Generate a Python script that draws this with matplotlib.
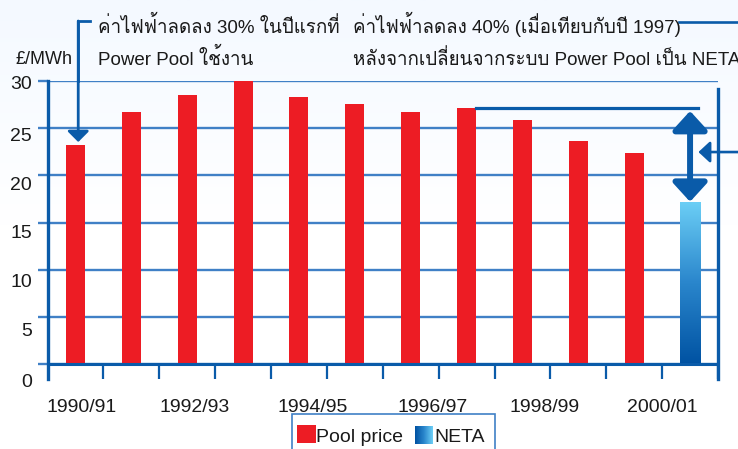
import numpy as np
import matplotlib
matplotlib.use('Agg')
import matplotlib.pyplot as plt
from matplotlib.colors import LinearSegmentedColormap
from matplotlib.patches import FancyArrowPatch, Rectangle

# data (pound per MWh)
years = ['1990/91', '1991/92', '1992/93', '1993/94', '1994/95', '1995/96',
         '1996/97', '1997/98', '1998/99', '1999/00', '2000/01']
pool_price = [23.2, 26.7, 28.5, 30.0, 28.3, 27.6, 26.7, 27.1, 25.9, 23.6, 22.4]
neta_price = [17.2]
tick_years = ['1990/91', '1992/93', '1994/95', '1996/97', '1998/99', '2000/01']
y_values = [0, 5, 10, 15, 20, 25, 30]

RED = '#ed1c24'
DARK = '#0a5ba9'
GRID = '#4080c6'
TXT = '#1a1a1a'
LATIN = 'Liberation Sans'
THAI = ['Liberation Sans', 'Loma', 'DejaVu Sans']

W, H = 738, 449
fig = plt.figure(figsize=(W / 100, H / 100), dpi=100)

def fx(px):
    return px / W

def fy(py):
    return 1 - py / H

# faint blue wash at the top of the picture
bg = fig.add_axes([0, 0, 1, 1], zorder=-10)
bg_cmap = LinearSegmentedColormap.from_list('bg', ['#ffffff', '#ffffff', '#f4f9ff'])
bg.imshow(np.linspace(0, 1, 256).reshape(-1, 1), cmap=bg_cmap, aspect='auto',
          extent=[0, 1, 0, 1], origin='lower')
bg.axis('off')

ax = fig.add_axes([fx(47.5), fy(382.9), fx(718) - fx(47.5), fy(81) - fy(382.9)])
ax.patch.set_alpha(0)

x_pool = np.arange(len(pool_price))
x_neta = np.arange(len(neta_price)) + len(pool_price)

ax.bar(x_pool, pool_price, width=0.34, color=RED, zorder=3)
neta_bar = ax.bar(x_neta, neta_price, width=0.36, color='none', zorder=3)[0]
neta_cmap = LinearSegmentedColormap.from_list('neta', ['#0052a2', '#2a86cc', '#6ccff6'])
img = ax.imshow(np.linspace(0, 1, 256).reshape(-1, 1), cmap=neta_cmap, origin='lower',
                aspect='auto', zorder=3,
                extent=[neta_bar.get_x(), neta_bar.get_x() + neta_bar.get_width(),
                        0, neta_bar.get_height()])
img.set_clip_path(neta_bar)

ax.set_xlim(-0.5, len(pool_price) + len(neta_price) - 0.5)
ax.set_ylim(-2, 30)
for s in ax.spines.values():
    s.set_visible(False)

# grid lines with short ticks on the left
ax.set_yticks(y_values, minor=True)
ax.grid(which='minor', axis='y', color=GRID, lw=1.7, zorder=1)
ax.tick_params(axis='y', which='minor', length=7.2, width=1.7, color=GRID)
# the labels in the original drift a little below their grid lines
label_y = [29.85, 24.3, 19.15, 14.05, 8.9, 3.66, -1.7]
ax.set_yticks(label_y, [str(v) for v in y_values[::-1]])
ax.tick_params(axis='y', which='major', length=0, pad=11.2, labelsize=14, labelcolor=TXT)

# axis frame
x0, x1 = ax.get_xlim()
ax.axhline(0, color=DARK, lw=2.2, zorder=4)
ax.plot([x0, x0], [-1.6, 30], color=DARK, lw=2.4, clip_on=False, zorder=4)
ax.plot([x1, x1], [-1.6, 29.2], color=DARK, lw=2.4, clip_on=False, zorder=4)
ax.vlines(np.arange(x0, x1 + 0.5, 1), -1.6, 0, color=DARK, lw=1.6, zorder=4)

ax.set_xticks([0.11, 2.13, 4.25, 6.39, 8.40, 10.51], tick_years)
ax.tick_params(axis='x', length=0, pad=11.5, labelsize=14, labelcolor=TXT)
for lab in ax.get_xticklabels() + ax.get_yticklabels():
    lab.set_family(LATIN)

# first-year annotation
ax.plot([0.26, 0.05, 0.05], [36.36, 36.36, 30], color=DARK, lw=2, clip_on=False,
        solid_joinstyle='miter')
ax.add_patch(FancyArrowPatch((0.05, 36.36), (0.05, pool_price[0] + 0.33),
                             arrowstyle='-|>,head_length=6.5,head_width=6.5',
                             mutation_scale=1, color=DARK, lw=2, shrinkA=0, shrinkB=0,
                             clip_on=False, zorder=5))

# drop from 1997 to NETA
ref = 7
ax.plot([ref + 0.17, 11.14], [pool_price[ref], pool_price[ref]], color=DARK, lw=2.3,
        zorder=5, clip_on=False)
ax.add_patch(FancyArrowPatch((x_neta[0], neta_price[0]), (x_neta[0], pool_price[ref] - 0.28),
                             arrowstyle='<|-|>,head_length=11.5,head_width=10.5',
                             mutation_scale=1, color=DARK, lw=4.3, shrinkA=0, shrinkB=0,
                             zorder=6, clip_on=False))

# connector from the second note
ax.plot([10.8, 12.6, 12.6], [36.26, 36.26, 22.47], color=DARK, lw=1.9, clip_on=False)
ax.add_patch(FancyArrowPatch((12.6, 22.47), (11.15, 22.47),
                             arrowstyle='-|>,head_length=7,head_width=6.5',
                             mutation_scale=1, color=DARK, lw=1.9, shrinkA=0, shrinkB=0,
                             clip_on=False, zorder=5))

# texts
fig.text(fx(15), fy(63.5), '£/MWh', family=LATIN, fontsize=13, color=TXT, va='baseline')
fig.text(fx(98), fy(33), 'ค่าไฟฟ้าลดลง 30% ในปีแรกที่', family=THAI, fontsize=13.5,
         color=TXT, va='baseline')
fig.text(fx(98), fy(65), 'Power Pool ใช้งาน', family=THAI, fontsize=13.5,
         color=TXT, va='baseline')
fig.text(fx(353), fy(33), 'ค่าไฟฟ้าลดลง 40% (เมื่อเทียบกับปี 1997)', family=THAI,
         fontsize=13.5, color=TXT, va='baseline')
fig.text(fx(353), fy(65), 'หลังจากเปลี่ยนจากระบบ Power Pool เป็น NETA', family=THAI,
         fontsize=13.5, color=TXT, va='baseline')

# legend
fig.add_artist(Rectangle((fx(292), fy(452)), fx(495) - fx(292), fy(414) - fy(452),
                         transform=fig.transFigure, facecolor='white', edgecolor=GRID, lw=1.2))
fig.add_artist(Rectangle((fx(297), fy(443)), fx(316) - fx(297), fy(425) - fy(443),
                         transform=fig.transFigure, facecolor=RED, edgecolor='none'))
fig.text(fx(316), fy(442), 'Pool price', family=LATIN, fontsize=14, color=TXT, va='baseline')
lg = fig.add_axes([fx(415), fy(444), fx(433) - fx(415), fy(426) - fy(444)], zorder=5)
lg.imshow(np.linspace(0, 1, 64).reshape(1, -1), cmap=LinearSegmentedColormap.from_list(
    'lg', ['#0052a2', '#2a86cc', '#6ccff6']), aspect='auto')
lg.axis('off')
fig.text(fx(434), fy(442), 'NETA', family=LATIN, fontsize=14, color=TXT, va='baseline')

fig.savefig('out.png', dpi=100)
